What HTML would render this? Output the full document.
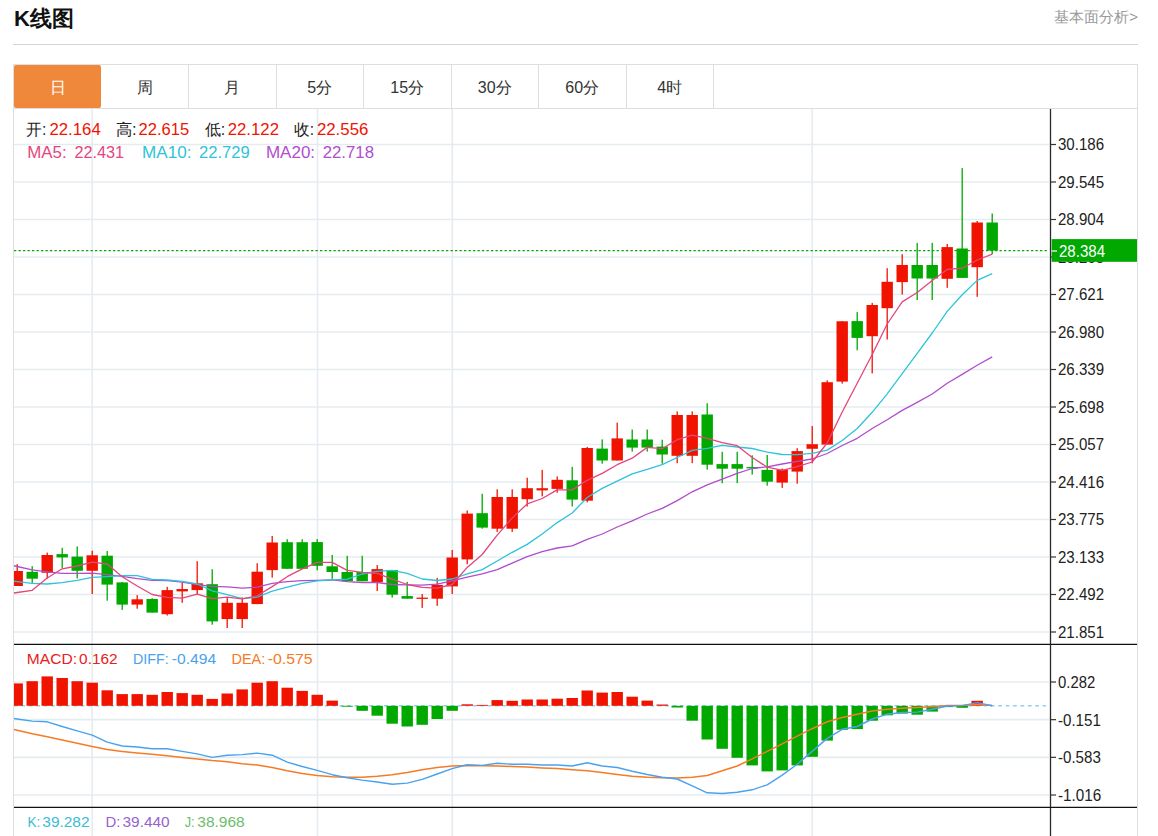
<!DOCTYPE html>
<html><head><meta charset="utf-8">
<style>
html,body{margin:0;padding:0;background:#fff;width:1158px;height:836px;overflow:hidden;position:relative;font-family:"Liberation Sans",sans-serif;}
.title{position:absolute;left:14px;top:4px;font-size:22px;font-weight:bold;color:#111;line-height:30px;}
.link{position:absolute;right:20px;top:6.5px;font-size:15px;color:#999;line-height:20px;}
.rule{position:absolute;left:13px;top:44px;width:1125px;height:1px;background:#d4d4d4;}
.frame{position:absolute;left:13px;top:64px;width:1123px;height:780px;border:1px solid #dedede;}
.tabbar{position:absolute;left:13px;top:108px;width:1124px;height:1px;background:#dedede;}
.tab{position:absolute;top:65px;width:87.5px;height:43px;line-height:45px;text-align:center;overflow:hidden;font-size:16px;color:#333;box-sizing:border-box;border-right:1px solid #dedede;}
.tab.on{background:#f0883b;color:#fff;border-radius:2px;border-right:none;width:87.2px;}
svg{position:absolute;left:0;top:0;}
.ax{font-family:"Liberation Sans",sans-serif;font-size:15px;fill:#222;}
.lg{font-family:"Liberation Sans",sans-serif;font-size:16px;}
.lg2{font-family:"Liberation Sans",sans-serif;font-size:15px;}
</style></head><body>
<div class="title">K线图</div>
<div class="link">基本面分析&gt;</div>
<div class="rule"></div>
<div class="frame"></div>
<div class="tab on" style="left:14.0px">日</div>
<div class="tab" style="left:101.5px">周</div>
<div class="tab" style="left:189.0px">月</div>
<div class="tab" style="left:276.5px">5分</div>
<div class="tab" style="left:364.0px">15分</div>
<div class="tab" style="left:451.5px">30分</div>
<div class="tab" style="left:539.0px">60分</div>
<div class="tab" style="left:626.5px">4时</div>
<div class="tabbar"></div>
<svg width="1158" height="836" viewBox="0 0 1158 836">
<line x1="14" y1="144.5" x2="1049" y2="144.5" stroke="#e4ecf0" stroke-width="1.6"/>
<line x1="14" y1="182.0" x2="1049" y2="182.0" stroke="#e4ecf0" stroke-width="1.6"/>
<line x1="14" y1="219.5" x2="1049" y2="219.5" stroke="#e4ecf0" stroke-width="1.6"/>
<line x1="14" y1="257.0" x2="1049" y2="257.0" stroke="#e4ecf0" stroke-width="1.6"/>
<line x1="14" y1="294.5" x2="1049" y2="294.5" stroke="#e4ecf0" stroke-width="1.6"/>
<line x1="14" y1="332.0" x2="1049" y2="332.0" stroke="#e4ecf0" stroke-width="1.6"/>
<line x1="14" y1="369.5" x2="1049" y2="369.5" stroke="#e4ecf0" stroke-width="1.6"/>
<line x1="14" y1="407.0" x2="1049" y2="407.0" stroke="#e4ecf0" stroke-width="1.6"/>
<line x1="14" y1="444.5" x2="1049" y2="444.5" stroke="#e4ecf0" stroke-width="1.6"/>
<line x1="14" y1="482.0" x2="1049" y2="482.0" stroke="#e4ecf0" stroke-width="1.6"/>
<line x1="14" y1="519.5" x2="1049" y2="519.5" stroke="#e4ecf0" stroke-width="1.6"/>
<line x1="14" y1="557.0" x2="1049" y2="557.0" stroke="#e4ecf0" stroke-width="1.6"/>
<line x1="14" y1="594.5" x2="1049" y2="594.5" stroke="#e4ecf0" stroke-width="1.6"/>
<line x1="14" y1="632.0" x2="1049" y2="632.0" stroke="#e4ecf0" stroke-width="1.6"/>
<line x1="14" y1="682" x2="1049" y2="682" stroke="#e4ecf0" stroke-width="1.6"/>
<line x1="14" y1="719.67" x2="1049" y2="719.67" stroke="#e4ecf0" stroke-width="1.6"/>
<line x1="14" y1="757.33" x2="1049" y2="757.33" stroke="#e4ecf0" stroke-width="1.6"/>
<line x1="14" y1="795" x2="1049" y2="795" stroke="#e4ecf0" stroke-width="1.6"/>
<line x1="92.2" y1="109" x2="92.2" y2="836" stroke="#e4ecf0" stroke-width="1.6"/>
<line x1="317.5" y1="109" x2="317.5" y2="836" stroke="#e4ecf0" stroke-width="1.6"/>
<line x1="452.3" y1="109" x2="452.3" y2="836" stroke="#e4ecf0" stroke-width="1.6"/>
<line x1="812.2" y1="109" x2="812.2" y2="836" stroke="#e4ecf0" stroke-width="1.6"/>
<defs><clipPath id="cm"><rect x="14" y="109" width="1036" height="535"/></clipPath><clipPath id="cd"><rect x="14" y="645" width="1036" height="162"/></clipPath></defs>
<line x1="14" y1="250.6" x2="1047" y2="250.6" stroke="#00a800" stroke-width="1.4" stroke-dasharray="2.3 2.2"/>
<g clip-path="url(#cm)">
<rect x="16.55" y="564.2" width="1.3" height="21.80" fill="#f01300"/>
<rect x="11.50" y="571.0" width="11.4" height="15.00" fill="#f01300"/>
<rect x="31.55" y="566.2" width="1.3" height="16.70" fill="#00a800"/>
<rect x="26.50" y="571.8" width="11.4" height="6.90" fill="#00a800"/>
<rect x="46.55" y="552.6" width="1.3" height="26.10" fill="#f01300"/>
<rect x="41.50" y="555.0" width="11.4" height="17.80" fill="#f01300"/>
<rect x="61.55" y="547.8" width="1.3" height="20.40" fill="#00a800"/>
<rect x="56.50" y="554.1" width="11.4" height="3.30" fill="#00a800"/>
<rect x="76.55" y="546.4" width="1.3" height="32.00" fill="#00a800"/>
<rect x="71.50" y="556.6" width="11.4" height="14.20" fill="#00a800"/>
<rect x="91.55" y="550.7" width="1.3" height="43.30" fill="#f01300"/>
<rect x="86.50" y="555.3" width="11.4" height="15.50" fill="#f01300"/>
<rect x="106.55" y="551.0" width="1.3" height="49.70" fill="#00a800"/>
<rect x="101.50" y="555.7" width="11.4" height="28.90" fill="#00a800"/>
<rect x="121.55" y="582.0" width="1.3" height="27.90" fill="#00a800"/>
<rect x="116.50" y="582.4" width="11.4" height="22.20" fill="#00a800"/>
<rect x="136.55" y="595.1" width="1.3" height="13.60" fill="#f01300"/>
<rect x="131.50" y="599.3" width="11.4" height="5.30" fill="#f01300"/>
<rect x="151.55" y="598.2" width="1.3" height="14.40" fill="#00a800"/>
<rect x="146.50" y="599.0" width="11.4" height="13.60" fill="#00a800"/>
<rect x="166.55" y="586.8" width="1.3" height="28.70" fill="#f01300"/>
<rect x="161.50" y="590.1" width="11.4" height="24.10" fill="#f01300"/>
<rect x="181.55" y="582.6" width="1.3" height="20.20" fill="#f01300"/>
<rect x="176.50" y="589.0" width="11.4" height="2.40" fill="#f01300"/>
<rect x="196.55" y="561.2" width="1.3" height="33.30" fill="#f01300"/>
<rect x="191.50" y="583.3" width="11.4" height="6.80" fill="#f01300"/>
<rect x="211.55" y="569.2" width="1.3" height="55.50" fill="#00a800"/>
<rect x="206.50" y="584.2" width="11.4" height="37.20" fill="#00a800"/>
<rect x="226.55" y="597.8" width="1.3" height="30.20" fill="#f01300"/>
<rect x="221.50" y="602.8" width="11.4" height="16.30" fill="#f01300"/>
<rect x="241.55" y="597.4" width="1.3" height="30.60" fill="#f01300"/>
<rect x="236.50" y="602.8" width="11.4" height="16.30" fill="#f01300"/>
<rect x="256.55" y="563.2" width="1.3" height="40.90" fill="#f01300"/>
<rect x="251.50" y="571.7" width="11.4" height="32.40" fill="#f01300"/>
<rect x="271.55" y="535.9" width="1.3" height="41.70" fill="#f01300"/>
<rect x="266.50" y="542.5" width="11.4" height="27.60" fill="#f01300"/>
<rect x="286.55" y="539.2" width="1.3" height="29.60" fill="#00a800"/>
<rect x="281.50" y="542.2" width="11.4" height="26.60" fill="#00a800"/>
<rect x="301.55" y="539.2" width="1.3" height="29.60" fill="#00a800"/>
<rect x="296.50" y="542.2" width="11.4" height="26.60" fill="#00a800"/>
<rect x="316.55" y="539.1" width="1.3" height="31.20" fill="#00a800"/>
<rect x="311.50" y="542.1" width="11.4" height="23.70" fill="#00a800"/>
<rect x="331.55" y="554.9" width="1.3" height="24.00" fill="#00a800"/>
<rect x="326.50" y="566.3" width="11.4" height="5.70" fill="#00a800"/>
<rect x="346.55" y="555.8" width="1.3" height="25.40" fill="#00a800"/>
<rect x="341.50" y="572.0" width="11.4" height="9.20" fill="#00a800"/>
<rect x="361.55" y="555.8" width="1.3" height="25.40" fill="#00a800"/>
<rect x="356.50" y="572.0" width="11.4" height="9.20" fill="#00a800"/>
<rect x="376.55" y="565.1" width="1.3" height="25.90" fill="#f01300"/>
<rect x="371.50" y="569.1" width="11.4" height="13.10" fill="#f01300"/>
<rect x="391.55" y="570.0" width="1.3" height="27.60" fill="#00a800"/>
<rect x="386.50" y="570.0" width="11.4" height="24.70" fill="#00a800"/>
<rect x="406.55" y="581.8" width="1.3" height="16.90" fill="#00a800"/>
<rect x="401.50" y="596.1" width="11.4" height="2.60" fill="#00a800"/>
<rect x="421.55" y="594.0" width="1.3" height="13.90" fill="#f01300"/>
<rect x="416.50" y="597.6" width="11.4" height="1.30" fill="#f01300"/>
<rect x="436.55" y="577.9" width="1.3" height="27.90" fill="#f01300"/>
<rect x="431.50" y="584.9" width="11.4" height="13.80" fill="#f01300"/>
<rect x="451.55" y="550.0" width="1.3" height="44.00" fill="#f01300"/>
<rect x="446.50" y="557.5" width="11.4" height="28.90" fill="#f01300"/>
<rect x="466.55" y="510.4" width="1.3" height="53.80" fill="#f01300"/>
<rect x="461.50" y="513.6" width="11.4" height="45.80" fill="#f01300"/>
<rect x="481.55" y="493.8" width="1.3" height="34.90" fill="#00a800"/>
<rect x="476.50" y="513.2" width="11.4" height="14.40" fill="#00a800"/>
<rect x="496.55" y="489.3" width="1.3" height="42.60" fill="#f01300"/>
<rect x="491.50" y="497.0" width="11.4" height="31.70" fill="#f01300"/>
<rect x="511.55" y="489.3" width="1.3" height="42.60" fill="#f01300"/>
<rect x="506.50" y="497.0" width="11.4" height="31.70" fill="#f01300"/>
<rect x="526.55" y="477.7" width="1.3" height="28.80" fill="#f01300"/>
<rect x="521.50" y="488.2" width="11.4" height="11.00" fill="#f01300"/>
<rect x="541.55" y="469.9" width="1.3" height="26.50" fill="#f01300"/>
<rect x="536.50" y="488.2" width="11.4" height="2.20" fill="#f01300"/>
<rect x="556.55" y="476.4" width="1.3" height="16.30" fill="#f01300"/>
<rect x="551.50" y="479.8" width="11.4" height="9.10" fill="#f01300"/>
<rect x="571.55" y="466.9" width="1.3" height="39.60" fill="#00a800"/>
<rect x="566.50" y="480.3" width="11.4" height="19.30" fill="#00a800"/>
<rect x="586.55" y="446.9" width="1.3" height="55.50" fill="#f01300"/>
<rect x="581.50" y="448.0" width="11.4" height="52.70" fill="#f01300"/>
<rect x="601.55" y="439.4" width="1.3" height="24.30" fill="#00a800"/>
<rect x="596.50" y="448.6" width="11.4" height="11.90" fill="#00a800"/>
<rect x="616.55" y="422.6" width="1.3" height="37.90" fill="#f01300"/>
<rect x="611.50" y="438.4" width="11.4" height="22.10" fill="#f01300"/>
<rect x="631.55" y="429.5" width="1.3" height="22.10" fill="#00a800"/>
<rect x="626.50" y="439.5" width="11.4" height="8.10" fill="#00a800"/>
<rect x="646.55" y="429.5" width="1.3" height="22.10" fill="#00a800"/>
<rect x="641.50" y="439.5" width="11.4" height="8.10" fill="#00a800"/>
<rect x="661.55" y="439.7" width="1.3" height="24.00" fill="#00a800"/>
<rect x="656.50" y="446.6" width="11.4" height="7.90" fill="#00a800"/>
<rect x="676.55" y="411.4" width="1.3" height="51.80" fill="#f01300"/>
<rect x="671.50" y="415.0" width="11.4" height="40.80" fill="#f01300"/>
<rect x="691.55" y="411.4" width="1.3" height="51.80" fill="#f01300"/>
<rect x="686.50" y="415.0" width="11.4" height="40.80" fill="#f01300"/>
<rect x="706.55" y="403.2" width="1.3" height="66.40" fill="#00a800"/>
<rect x="701.50" y="414.5" width="11.4" height="50.20" fill="#00a800"/>
<rect x="721.55" y="451.8" width="1.3" height="31.40" fill="#00a800"/>
<rect x="716.50" y="464.1" width="11.4" height="4.60" fill="#00a800"/>
<rect x="736.55" y="451.8" width="1.3" height="31.40" fill="#00a800"/>
<rect x="731.50" y="464.1" width="11.4" height="4.60" fill="#00a800"/>
<rect x="751.55" y="455.3" width="1.3" height="19.30" fill="#00a800"/>
<rect x="746.50" y="467.1" width="11.4" height="1.30" fill="#00a800"/>
<rect x="766.55" y="455.0" width="1.3" height="30.70" fill="#00a800"/>
<rect x="761.50" y="469.9" width="11.4" height="11.80" fill="#00a800"/>
<rect x="781.55" y="468.6" width="1.3" height="19.30" fill="#f01300"/>
<rect x="776.50" y="469.6" width="11.4" height="13.00" fill="#f01300"/>
<rect x="796.55" y="448.2" width="1.3" height="35.50" fill="#f01300"/>
<rect x="791.50" y="451.1" width="11.4" height="20.50" fill="#f01300"/>
<rect x="811.55" y="426.1" width="1.3" height="37.20" fill="#f01300"/>
<rect x="806.50" y="444.2" width="11.4" height="4.60" fill="#f01300"/>
<rect x="826.55" y="380.3" width="1.3" height="64.30" fill="#f01300"/>
<rect x="821.50" y="382.2" width="11.4" height="62.40" fill="#f01300"/>
<rect x="841.55" y="321.0" width="1.3" height="62.60" fill="#f01300"/>
<rect x="836.50" y="321.3" width="11.4" height="60.30" fill="#f01300"/>
<rect x="856.55" y="312.1" width="1.3" height="38.20" fill="#00a800"/>
<rect x="851.50" y="321.1" width="11.4" height="16.80" fill="#00a800"/>
<rect x="871.55" y="302.9" width="1.3" height="70.50" fill="#f01300"/>
<rect x="866.50" y="305.0" width="11.4" height="31.20" fill="#f01300"/>
<rect x="886.55" y="268.2" width="1.3" height="71.30" fill="#f01300"/>
<rect x="881.50" y="281.8" width="11.4" height="26.40" fill="#f01300"/>
<rect x="901.55" y="254.2" width="1.3" height="40.40" fill="#f01300"/>
<rect x="896.50" y="265.0" width="11.4" height="17.10" fill="#f01300"/>
<rect x="916.55" y="242.9" width="1.3" height="57.10" fill="#00a800"/>
<rect x="911.50" y="265.0" width="11.4" height="13.50" fill="#00a800"/>
<rect x="931.55" y="242.9" width="1.3" height="57.10" fill="#00a800"/>
<rect x="926.50" y="265.0" width="11.4" height="13.50" fill="#00a800"/>
<rect x="946.55" y="244.0" width="1.3" height="43.80" fill="#f01300"/>
<rect x="941.50" y="247.1" width="11.4" height="31.70" fill="#f01300"/>
<rect x="961.55" y="168.1" width="1.3" height="109.80" fill="#00a800"/>
<rect x="956.50" y="248.5" width="11.4" height="29.40" fill="#00a800"/>
<rect x="976.55" y="221.0" width="1.3" height="75.80" fill="#f01300"/>
<rect x="971.50" y="222.5" width="11.4" height="44.70" fill="#f01300"/>
<rect x="991.55" y="213.5" width="1.3" height="40.70" fill="#00a800"/>
<rect x="986.50" y="222.5" width="11.4" height="28.10" fill="#00a800"/>
<polyline points="2.2,563.1 17.2,566.5 32.2,569.9 47.2,571.8 62.2,573.4 77.2,573.4 92.2,573.2 107.2,574.7 122.2,576.3 137.2,578.7 152.2,580.4 167.2,580.7 182.2,582.2 197.2,584.6 212.2,586.3 227.2,586.8 242.2,588.2 257.2,587.2 272.2,583.3 287.2,581.6 302.2,580.7 317.2,580.3 332.2,579.9 347.2,581.6 362.2,582.5 377.2,582.5 392.2,584.5 407.2,584.9 422.2,585.1 437.2,584.2 452.2,580.8 467.2,577.1 482.2,573.9 497.2,569.6 512.2,563.1 527.2,556.6 542.2,551.7 557.2,548.0 572.2,545.9 587.2,539.4 602.2,534.0 617.2,527.0 632.2,520.8 647.2,514.0 662.2,508.3 677.2,500.6 692.2,491.8 707.2,484.8 722.2,479.2 737.2,473.3 752.2,468.5 767.2,466.8 782.2,464.0 797.2,461.3 812.2,459.0 827.2,453.5 842.2,445.5 857.2,438.3 872.2,428.5 887.2,419.8 902.2,410.4 917.2,402.4 932.2,394.0 947.2,383.2 962.2,374.4 977.2,365.3 992.2,356.9" fill="none" stroke="#b04dcc" stroke-width="1.3" stroke-linejoin="round"/>
<polyline points="2.2,579.9 17.2,581.6 32.2,583.3 47.2,584.0 62.2,582.6 77.2,580.4 92.2,577.4 107.2,576.7 122.2,575.7 137.2,575.7 152.2,579.3 167.2,580.0 182.2,581.3 197.2,584.0 212.2,590.8 227.2,594.7 242.2,598.7 257.2,597.1 272.2,591.2 287.2,587.2 302.2,583.3 317.2,580.8 332.2,579.9 347.2,579.2 362.2,574.0 377.2,571.3 392.2,570.3 407.2,573.3 422.2,579.0 437.2,580.5 452.2,579.0 467.2,573.9 482.2,569.6 497.2,561.0 512.2,552.3 527.2,544.4 542.2,534.0 557.2,522.6 572.2,513.0 587.2,497.5 602.2,488.4 617.2,481.2 632.2,473.9 647.2,469.3 662.2,464.7 677.2,457.5 692.2,450.3 707.2,448.3 722.2,445.3 737.2,447.0 752.2,448.5 767.2,452.1 782.2,454.5 797.2,454.7 812.2,453.4 827.2,450.1 842.2,440.5 857.2,428.5 872.2,412.3 887.2,393.8 902.2,373.7 917.2,353.3 932.2,333.0 947.2,311.4 962.2,294.7 977.2,280.4 992.2,273.6" fill="none" stroke="#2ec3d8" stroke-width="1.3" stroke-linejoin="round"/>
<polyline points="2.2,594.7 17.2,592.5 32.2,590.3 47.2,578.0 62.2,568.8 77.2,566.0 92.2,562.2 107.2,564.0 122.2,576.7 137.2,586.0 152.2,594.5 167.2,597.4 182.2,598.2 197.2,594.2 212.2,598.7 227.2,597.1 242.2,598.8 257.2,595.8 272.2,586.6 287.2,576.7 302.2,568.8 317.2,562.4 332.2,562.4 347.2,570.3 362.2,572.4 377.2,573.3 392.2,579.2 407.2,584.5 422.2,587.4 437.2,588.2 452.2,584.5 467.2,567.4 482.2,554.5 497.2,535.1 512.2,517.9 527.2,503.9 542.2,498.5 557.2,489.9 572.2,489.9 587.2,480.3 602.2,473.4 617.2,464.7 632.2,458.2 647.2,447.4 662.2,448.7 677.2,439.7 692.2,435.1 707.2,438.4 722.2,442.6 737.2,445.7 752.2,457.5 767.2,467.2 782.2,470.3 797.2,466.6 812.2,462.0 827.2,443.0 842.2,412.0 857.2,383.2 872.2,354.5 887.2,324.0 902.2,301.9 917.2,292.5 932.2,280.5 947.2,269.5 962.2,268.2 977.2,260.0 992.2,254.2" fill="none" stroke="#e5457d" stroke-width="1.3" stroke-linejoin="round"/>
</g>
<g clip-path="url(#cd)">
<line x1="14" y1="705.8" x2="1046" y2="705.8" stroke="#94d0ee" stroke-width="1.4" stroke-dasharray="3.8 3.6"/>
<rect x="11.50" y="683.4" width="11.4" height="22.40" fill="#f01300"/>
<rect x="26.50" y="681.2" width="11.4" height="24.60" fill="#f01300"/>
<rect x="41.50" y="676.4" width="11.4" height="29.40" fill="#f01300"/>
<rect x="56.50" y="678" width="11.4" height="27.80" fill="#f01300"/>
<rect x="71.50" y="681.2" width="11.4" height="24.60" fill="#f01300"/>
<rect x="86.50" y="682.7" width="11.4" height="23.10" fill="#f01300"/>
<rect x="101.50" y="690.3" width="11.4" height="15.50" fill="#f01300"/>
<rect x="116.50" y="694.1" width="11.4" height="11.70" fill="#f01300"/>
<rect x="131.50" y="694.1" width="11.4" height="11.70" fill="#f01300"/>
<rect x="146.50" y="694.8" width="11.4" height="11.00" fill="#f01300"/>
<rect x="161.50" y="692" width="11.4" height="13.80" fill="#f01300"/>
<rect x="176.50" y="693.1" width="11.4" height="12.70" fill="#f01300"/>
<rect x="191.50" y="694.8" width="11.4" height="11.00" fill="#f01300"/>
<rect x="206.50" y="698.9" width="11.4" height="6.90" fill="#f01300"/>
<rect x="221.50" y="693.5" width="11.4" height="12.30" fill="#f01300"/>
<rect x="236.50" y="689.4" width="11.4" height="16.40" fill="#f01300"/>
<rect x="251.50" y="682.7" width="11.4" height="23.10" fill="#f01300"/>
<rect x="266.50" y="681.2" width="11.4" height="24.60" fill="#f01300"/>
<rect x="281.50" y="687.7" width="11.4" height="18.10" fill="#f01300"/>
<rect x="296.50" y="690.9" width="11.4" height="14.90" fill="#f01300"/>
<rect x="311.50" y="694.8" width="11.4" height="11.00" fill="#f01300"/>
<rect x="326.50" y="700.6" width="11.4" height="5.20" fill="#f01300"/>
<rect x="341.50" y="705.8" width="11.4" height="0.90" fill="#00a800"/>
<rect x="356.50" y="705.8" width="11.4" height="5.00" fill="#00a800"/>
<rect x="371.50" y="705.8" width="11.4" height="9.90" fill="#00a800"/>
<rect x="386.50" y="705.8" width="11.4" height="17.90" fill="#00a800"/>
<rect x="401.50" y="705.8" width="11.4" height="20.70" fill="#00a800"/>
<rect x="416.50" y="705.8" width="11.4" height="19.00" fill="#00a800"/>
<rect x="431.50" y="705.8" width="11.4" height="13.20" fill="#00a800"/>
<rect x="446.50" y="705.8" width="11.4" height="5.00" fill="#00a800"/>
<rect x="461.50" y="704.3" width="11.4" height="1.50" fill="#f01300"/>
<rect x="476.50" y="704.9" width="11.4" height="0.90" fill="#f01300"/>
<rect x="491.50" y="700.1" width="11.4" height="5.70" fill="#f01300"/>
<rect x="506.50" y="700.8" width="11.4" height="5.00" fill="#f01300"/>
<rect x="521.50" y="699.5" width="11.4" height="6.30" fill="#f01300"/>
<rect x="536.50" y="699.5" width="11.4" height="6.30" fill="#f01300"/>
<rect x="551.50" y="698.7" width="11.4" height="7.10" fill="#f01300"/>
<rect x="566.50" y="698" width="11.4" height="7.80" fill="#f01300"/>
<rect x="581.50" y="690.5" width="11.4" height="15.30" fill="#f01300"/>
<rect x="596.50" y="692.6" width="11.4" height="13.20" fill="#f01300"/>
<rect x="611.50" y="692" width="11.4" height="13.80" fill="#f01300"/>
<rect x="626.50" y="696.7" width="11.4" height="9.10" fill="#f01300"/>
<rect x="641.50" y="700.6" width="11.4" height="5.20" fill="#f01300"/>
<rect x="656.50" y="704.5" width="11.4" height="1.30" fill="#f01300"/>
<rect x="671.50" y="705.8" width="11.4" height="1.70" fill="#00a800"/>
<rect x="686.50" y="705.8" width="11.4" height="14.90" fill="#00a800"/>
<rect x="701.50" y="705.8" width="11.4" height="33.70" fill="#00a800"/>
<rect x="716.50" y="705.8" width="11.4" height="43.00" fill="#00a800"/>
<rect x="731.50" y="705.8" width="11.4" height="52.00" fill="#00a800"/>
<rect x="746.50" y="705.8" width="11.4" height="59.60" fill="#00a800"/>
<rect x="761.50" y="705.8" width="11.4" height="65.60" fill="#00a800"/>
<rect x="776.50" y="705.8" width="11.4" height="64.60" fill="#00a800"/>
<rect x="791.50" y="705.8" width="11.4" height="59.60" fill="#00a800"/>
<rect x="806.50" y="705.8" width="11.4" height="51.00" fill="#00a800"/>
<rect x="821.50" y="705.8" width="11.4" height="34.80" fill="#00a800"/>
<rect x="836.50" y="705.8" width="11.4" height="24.00" fill="#00a800"/>
<rect x="851.50" y="705.8" width="11.4" height="23.30" fill="#00a800"/>
<rect x="866.50" y="705.8" width="11.4" height="14.90" fill="#00a800"/>
<rect x="881.50" y="705.8" width="11.4" height="9.50" fill="#00a800"/>
<rect x="896.50" y="705.8" width="11.4" height="7.80" fill="#00a800"/>
<rect x="911.50" y="705.8" width="11.4" height="8.90" fill="#00a800"/>
<rect x="926.50" y="705.8" width="11.4" height="5.80" fill="#00a800"/>
<rect x="941.50" y="705.8" width="11.4" height="1.30" fill="#00a800"/>
<rect x="956.50" y="705.8" width="11.4" height="2.00" fill="#00a800"/>
<rect x="971.50" y="700.8" width="11.4" height="5.00" fill="#f01300"/>
<polyline points="2.2,726.7 17.2,730.2 32.2,733.7 47.2,736.7 62.2,740.1 77.2,743.2 92.2,746.6 107.2,749.6 122.2,751.4 137.2,752.9 152.2,754.2 167.2,755.7 182.2,757.4 197.2,759.1 212.2,760.6 227.2,761.7 242.2,763.7 257.2,765.0 272.2,767.5 287.2,770.8 302.2,773.4 317.2,775.5 332.2,776.8 347.2,777.3 362.2,777.3 377.2,776.2 392.2,774.7 407.2,772.5 422.2,769.7 437.2,767.5 452.2,766.0 467.2,765.4 482.2,765.8 497.2,766.0 512.2,766.5 527.2,767.1 542.2,768.0 557.2,768.6 572.2,769.7 587.2,770.8 602.2,772.5 617.2,774.5 632.2,776.2 647.2,777.3 662.2,777.7 677.2,777.9 692.2,777.3 707.2,775.5 722.2,770.8 737.2,766.0 752.2,758.9 767.2,751.4 782.2,743.8 797.2,736.2 812.2,728.7 827.2,721.8 842.2,717.5 857.2,714.2 872.2,711.0 887.2,709.3 902.2,708.2 917.2,707.5 932.2,706.7 947.2,705.6 962.2,705.6 977.2,704.5 992.2,705.5" fill="none" stroke="#f57b25" stroke-width="1.5" stroke-linejoin="round"/>
<polyline points="2.2,716.9 17.2,719.0 32.2,721.1 47.2,721.8 62.2,726.5 77.2,730.8 92.2,735.2 107.2,742.1 122.2,746.0 137.2,747.0 152.2,748.8 167.2,748.8 182.2,751.4 197.2,753.9 212.2,757.4 227.2,755.2 242.2,754.6 257.2,753.1 272.2,755.2 287.2,762.1 302.2,766.5 317.2,770.4 332.2,774.7 347.2,777.7 362.2,780.1 377.2,782.0 392.2,784.2 407.2,783.1 422.2,779.4 437.2,774.0 452.2,768.6 467.2,764.7 482.2,765.4 497.2,763.2 512.2,764.3 527.2,764.3 542.2,765.0 557.2,765.0 572.2,766.0 587.2,762.8 602.2,766.0 617.2,767.5 632.2,771.2 647.2,774.5 662.2,777.3 677.2,779.0 692.2,785.9 707.2,792.8 722.2,793.5 737.2,792.2 752.2,789.8 767.2,784.8 782.2,775.1 797.2,764.3 812.2,751.4 827.2,738.4 842.2,729.3 857.2,726.5 872.2,719.0 887.2,714.2 902.2,712.5 917.2,712.1 932.2,709.3 947.2,706.0 962.2,705.6 977.2,702.6 992.2,705.8" fill="none" stroke="#4aa2ee" stroke-width="1.4" stroke-linejoin="round"/>
</g>
<line x1="1050.5" y1="109" x2="1050.5" y2="836" stroke="#2a2a2a" stroke-width="1.3"/>
<line x1="14" y1="644.4" x2="1137" y2="644.4" stroke="#111" stroke-width="1.4"/>
<line x1="14" y1="807.4" x2="1137" y2="807.4" stroke="#111" stroke-width="1.4"/>
<line x1="1051" y1="144.5" x2="1056" y2="144.5" stroke="#333" stroke-width="1.2"/>
<text x="1058.0" y="150.3" textLength="46.0" lengthAdjust="spacingAndGlyphs" style="font-family:'Liberation Sans',sans-serif;font-size:16px;fill:#222;">30.186</text>
<line x1="1051" y1="182.0" x2="1056" y2="182.0" stroke="#333" stroke-width="1.2"/>
<text x="1058.0" y="187.8" textLength="46.0" lengthAdjust="spacingAndGlyphs" style="font-family:'Liberation Sans',sans-serif;font-size:16px;fill:#222;">29.545</text>
<line x1="1051" y1="219.5" x2="1056" y2="219.5" stroke="#333" stroke-width="1.2"/>
<text x="1058.0" y="225.3" textLength="46.0" lengthAdjust="spacingAndGlyphs" style="font-family:'Liberation Sans',sans-serif;font-size:16px;fill:#222;">28.904</text>
<line x1="1051" y1="257.0" x2="1056" y2="257.0" stroke="#333" stroke-width="1.2"/>
<text x="1058.0" y="262.8" textLength="46.0" lengthAdjust="spacingAndGlyphs" style="font-family:'Liberation Sans',sans-serif;font-size:16px;fill:#222;">28.263</text>
<line x1="1051" y1="294.5" x2="1056" y2="294.5" stroke="#333" stroke-width="1.2"/>
<text x="1058.0" y="300.3" textLength="46.0" lengthAdjust="spacingAndGlyphs" style="font-family:'Liberation Sans',sans-serif;font-size:16px;fill:#222;">27.621</text>
<line x1="1051" y1="332.0" x2="1056" y2="332.0" stroke="#333" stroke-width="1.2"/>
<text x="1058.0" y="337.8" textLength="46.0" lengthAdjust="spacingAndGlyphs" style="font-family:'Liberation Sans',sans-serif;font-size:16px;fill:#222;">26.980</text>
<line x1="1051" y1="369.5" x2="1056" y2="369.5" stroke="#333" stroke-width="1.2"/>
<text x="1058.0" y="375.3" textLength="46.0" lengthAdjust="spacingAndGlyphs" style="font-family:'Liberation Sans',sans-serif;font-size:16px;fill:#222;">26.339</text>
<line x1="1051" y1="407.0" x2="1056" y2="407.0" stroke="#333" stroke-width="1.2"/>
<text x="1058.0" y="412.8" textLength="46.0" lengthAdjust="spacingAndGlyphs" style="font-family:'Liberation Sans',sans-serif;font-size:16px;fill:#222;">25.698</text>
<line x1="1051" y1="444.5" x2="1056" y2="444.5" stroke="#333" stroke-width="1.2"/>
<text x="1058.0" y="450.3" textLength="46.0" lengthAdjust="spacingAndGlyphs" style="font-family:'Liberation Sans',sans-serif;font-size:16px;fill:#222;">25.057</text>
<line x1="1051" y1="482.0" x2="1056" y2="482.0" stroke="#333" stroke-width="1.2"/>
<text x="1058.0" y="487.8" textLength="46.0" lengthAdjust="spacingAndGlyphs" style="font-family:'Liberation Sans',sans-serif;font-size:16px;fill:#222;">24.416</text>
<line x1="1051" y1="519.5" x2="1056" y2="519.5" stroke="#333" stroke-width="1.2"/>
<text x="1058.0" y="525.3" textLength="46.0" lengthAdjust="spacingAndGlyphs" style="font-family:'Liberation Sans',sans-serif;font-size:16px;fill:#222;">23.775</text>
<line x1="1051" y1="557.0" x2="1056" y2="557.0" stroke="#333" stroke-width="1.2"/>
<text x="1058.0" y="562.8" textLength="46.0" lengthAdjust="spacingAndGlyphs" style="font-family:'Liberation Sans',sans-serif;font-size:16px;fill:#222;">23.133</text>
<line x1="1051" y1="594.5" x2="1056" y2="594.5" stroke="#333" stroke-width="1.2"/>
<text x="1058.0" y="600.3" textLength="46.0" lengthAdjust="spacingAndGlyphs" style="font-family:'Liberation Sans',sans-serif;font-size:16px;fill:#222;">22.492</text>
<line x1="1051" y1="632.0" x2="1056" y2="632.0" stroke="#333" stroke-width="1.2"/>
<text x="1058.0" y="637.8" textLength="46.0" lengthAdjust="spacingAndGlyphs" style="font-family:'Liberation Sans',sans-serif;font-size:16px;fill:#222;">21.851</text>
<line x1="1051" y1="682" x2="1056" y2="682" stroke="#333" stroke-width="1.2"/>
<text x="1058.0" y="687.8" textLength="37.2" lengthAdjust="spacingAndGlyphs" style="font-family:'Liberation Sans',sans-serif;font-size:16px;fill:#222;">0.282</text>
<line x1="1051" y1="719.67" x2="1056" y2="719.67" stroke="#333" stroke-width="1.2"/>
<text x="1058.0" y="725.5" textLength="42.8" lengthAdjust="spacingAndGlyphs" style="font-family:'Liberation Sans',sans-serif;font-size:16px;fill:#222;">-0.151</text>
<line x1="1051" y1="757.33" x2="1056" y2="757.33" stroke="#333" stroke-width="1.2"/>
<text x="1058.0" y="763.1" textLength="42.8" lengthAdjust="spacingAndGlyphs" style="font-family:'Liberation Sans',sans-serif;font-size:16px;fill:#222;">-0.583</text>
<line x1="1051" y1="795" x2="1056" y2="795" stroke="#333" stroke-width="1.2"/>
<text x="1058.0" y="800.8" textLength="43.3" lengthAdjust="spacingAndGlyphs" style="font-family:'Liberation Sans',sans-serif;font-size:16px;fill:#222;">-1.016</text>
<rect x="1051.6" y="239.1" width="85.4" height="22.7" fill="#00a800"/>
<line x1="1051.6" y1="251" x2="1057" y2="251" stroke="#fff" stroke-width="1.2"/>
<text x="1059.0" y="256.9" textLength="46.0" lengthAdjust="spacingAndGlyphs" style="font-family:'Liberation Sans',sans-serif;font-size:16px;fill:#fff;">28.384</text>
<text x="26.2" y="134.7" textLength="20.2" lengthAdjust="spacingAndGlyphs" style="font-family:'Liberation Sans',sans-serif;font-size:16px;fill:#222;">开:</text>
<text x="49.5" y="134.7" textLength="51.2" lengthAdjust="spacingAndGlyphs" style="font-family:'Liberation Sans',sans-serif;font-size:16px;fill:#f01300;">22.164</text>
<text x="115.7" y="134.7" textLength="21.0" lengthAdjust="spacingAndGlyphs" style="font-family:'Liberation Sans',sans-serif;font-size:16px;fill:#222;">高:</text>
<text x="138.6" y="134.7" textLength="50.6" lengthAdjust="spacingAndGlyphs" style="font-family:'Liberation Sans',sans-serif;font-size:16px;fill:#f01300;">22.615</text>
<text x="204.6" y="134.7" textLength="20.5" lengthAdjust="spacingAndGlyphs" style="font-family:'Liberation Sans',sans-serif;font-size:16px;fill:#222;">低:</text>
<text x="227.7" y="134.7" textLength="51.3" lengthAdjust="spacingAndGlyphs" style="font-family:'Liberation Sans',sans-serif;font-size:16px;fill:#f01300;">22.122</text>
<text x="294.0" y="134.7" textLength="20.0" lengthAdjust="spacingAndGlyphs" style="font-family:'Liberation Sans',sans-serif;font-size:16px;fill:#222;">收:</text>
<text x="316.9" y="134.7" textLength="51.5" lengthAdjust="spacingAndGlyphs" style="font-family:'Liberation Sans',sans-serif;font-size:16px;fill:#f01300;">22.556</text>
<text x="27.3" y="157.5" textLength="39.3" lengthAdjust="spacingAndGlyphs" style="font-family:'Liberation Sans',sans-serif;font-size:16px;fill:#e5457d;">MA5:</text>
<text x="74.4" y="157.5" textLength="49.7" lengthAdjust="spacingAndGlyphs" style="font-family:'Liberation Sans',sans-serif;font-size:16px;fill:#e5457d;">22.431</text>
<text x="142.0" y="157.5" textLength="49.4" lengthAdjust="spacingAndGlyphs" style="font-family:'Liberation Sans',sans-serif;font-size:16px;fill:#2ec3d8;">MA10:</text>
<text x="199.0" y="157.5" textLength="50.7" lengthAdjust="spacingAndGlyphs" style="font-family:'Liberation Sans',sans-serif;font-size:16px;fill:#2ec3d8;">22.729</text>
<text x="265.9" y="157.5" textLength="49.2" lengthAdjust="spacingAndGlyphs" style="font-family:'Liberation Sans',sans-serif;font-size:16px;fill:#b04dcc;">MA20:</text>
<text x="322.7" y="157.5" textLength="51.3" lengthAdjust="spacingAndGlyphs" style="font-family:'Liberation Sans',sans-serif;font-size:16px;fill:#b04dcc;">22.718</text>
<text x="26.8" y="664.4" textLength="50.2" lengthAdjust="spacingAndGlyphs" style="font-family:'Liberation Sans',sans-serif;font-size:15.5px;fill:#e82020;">MACD:</text>
<text x="79.1" y="664.4" textLength="38.6" lengthAdjust="spacingAndGlyphs" style="font-family:'Liberation Sans',sans-serif;font-size:15.5px;fill:#e82020;">0.162</text>
<text x="133.0" y="664.4" textLength="35.7" lengthAdjust="spacingAndGlyphs" style="font-family:'Liberation Sans',sans-serif;font-size:15.5px;fill:#4aa2ee;">DIFF:</text>
<text x="171.8" y="664.4" textLength="44.3" lengthAdjust="spacingAndGlyphs" style="font-family:'Liberation Sans',sans-serif;font-size:15.5px;fill:#4aa2ee;">-0.494</text>
<text x="231.4" y="664.4" textLength="33.9" lengthAdjust="spacingAndGlyphs" style="font-family:'Liberation Sans',sans-serif;font-size:15.5px;fill:#f57b25;">DEA:</text>
<text x="267.7" y="664.4" textLength="45.0" lengthAdjust="spacingAndGlyphs" style="font-family:'Liberation Sans',sans-serif;font-size:15.5px;fill:#f57b25;">-0.575</text>
<text x="27.4" y="826.7" textLength="12.8" lengthAdjust="spacingAndGlyphs" style="font-family:'Liberation Sans',sans-serif;font-size:15.5px;fill:#3bbcd4;">K:</text>
<text x="42.3" y="826.7" textLength="47.2" lengthAdjust="spacingAndGlyphs" style="font-family:'Liberation Sans',sans-serif;font-size:15.5px;fill:#3bbcd4;">39.282</text>
<text x="105.5" y="826.7" textLength="14.9" lengthAdjust="spacingAndGlyphs" style="font-family:'Liberation Sans',sans-serif;font-size:15.5px;fill:#9563cf;">D:</text>
<text x="122.5" y="826.7" textLength="47.2" lengthAdjust="spacingAndGlyphs" style="font-family:'Liberation Sans',sans-serif;font-size:15.5px;fill:#9563cf;">39.440</text>
<text x="184.7" y="826.7" textLength="9.9" lengthAdjust="spacingAndGlyphs" style="font-family:'Liberation Sans',sans-serif;font-size:15.5px;fill:#6cbd6c;">J:</text>
<text x="197.3" y="826.7" textLength="47.4" lengthAdjust="spacingAndGlyphs" style="font-family:'Liberation Sans',sans-serif;font-size:15.5px;fill:#6cbd6c;">38.968</text>
</svg>
</body></html>
